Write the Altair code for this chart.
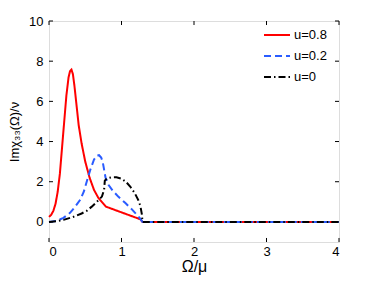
import altair as alt
import pandas as pd

series_names = ["u=0.8", "u=0.2", "u=0"]
colors = ["#ff0000", "#2a5cff", "#000000"]
dashes = [[1, 0], [7, 4], [7, 3, 1.5, 3]]

u08_x = [0.0, 0.03, 0.06, 0.09, 0.12, 0.15, 0.18, 0.21, 0.24, 0.27, 0.29, 0.31, 0.33, 0.35, 0.38, 0.41, 0.45, 0.5, 0.56, 0.62, 0.68, 0.74, 0.785, 1.26, 1.29, 1.4, 4.0]
u08_y = [0.25, 0.35, 0.55, 0.9, 1.5, 2.4, 3.7, 5.0, 6.3, 7.2, 7.5, 7.58, 7.35, 6.8, 5.8, 4.8, 3.9, 3.0, 2.2, 1.6, 1.2, 0.95, 0.76, 0.13, 0.0, 0.0, 0.0]

u02_x = [0.0, 0.1, 0.2, 0.29, 0.36, 0.43, 0.48, 0.52, 0.57, 0.62, 0.66, 0.69, 0.72, 0.74, 0.76, 0.78, 0.82, 0.88, 0.955, 1.05, 1.15, 1.25, 1.29, 1.4, 4.0]
u02_y = [0.0, 0.05, 0.2, 0.45, 0.75, 1.1, 1.5, 2.0, 2.6, 3.1, 3.3, 3.32, 3.2, 3.0, 2.6, 2.2, 1.85, 1.55, 1.26, 0.95, 0.6, 0.2, 0.0, 0.0, 0.0]

u0_x = [0.0, 0.1, 0.2, 0.34, 0.45, 0.52, 0.59, 0.66, 0.73, 0.76, 0.77, 0.8, 0.86, 0.93, 1.0, 1.06, 1.12, 1.18, 1.23, 1.26, 1.28, 1.29, 1.4, 4.0]
u0_y = [0.0, 0.03, 0.1, 0.26, 0.42, 0.55, 0.76, 1.0, 1.26, 1.6, 2.05, 2.17, 2.22, 2.22, 2.15, 2.0, 1.76, 1.45, 1.1, 0.8, 0.4, 0.0, 0.0, 0.0]

x_ticks = [0, 1, 2, 3, 4]
y_ticks = [0, 2, 4, 6, 8, 10]

rows = []
for name, xs, ys in [("u=0.8", u08_x, u08_y), ("u=0.2", u02_x, u02_y), ("u=0", u0_x, u0_y)]:
    for i, (a, b) in enumerate(zip(xs, ys)):
        rows.append({"series": name, "x": a, "y": b, "order": i})
df = pd.DataFrame(rows)

xscale = alt.Scale(domain=[0, 4], nice=False, zero=False)
yscale = alt.Scale(domain=[-1, 10], nice=False, zero=False)

font = "Liberation Sans"

lines = alt.Chart(df).mark_line(strokeWidth=2).encode(
    x=alt.X("x:Q", scale=xscale,
            axis=alt.Axis(values=x_ticks, format="d", title="Ω/μ", grid=False, tickSize=0, labelPadding=3,
                          titleFontSize=16, titleFontWeight="normal", titlePadding=0,
                          labelFontSize=13, domain=False, labelFont=font, titleFont=font)),
    y=alt.Y("y:Q", scale=yscale,
            axis=alt.Axis(values=y_ticks, format="d", title="Imχ₃₃(Ω)/ν", grid=False, tickSize=0, labelPadding=6,
                          titleFontSize=13, titleFontWeight="normal", titlePadding=7,
                          labelFontSize=13, domain=False, labelFont=font, titleFont=font)),
    color=alt.Color("series:N", scale=alt.Scale(domain=series_names, range=colors),
                    legend=alt.Legend(title=None, orient="none", legendX=214, legendY=0,
                                      symbolType="stroke", symbolSize=676, symbolStrokeWidth=2,
                                      labelFontSize=13, labelFont=font, rowPadding=-8,
                                      labelOffset=3, padding=0)),
    strokeDash=alt.StrokeDash("series:N", scale=alt.Scale(domain=series_names, range=dashes), legend=None),
    order="order:Q",
)

tx = pd.DataFrame({"t": x_ticks})
ty = pd.DataFrame({"t": y_ticks})

bot = alt.Chart(tx).mark_rule(color="black", strokeWidth=1).encode(
    x=alt.X("t:Q", scale=xscale), y=alt.datum(-1), y2=alt.datum(-0.8))
top = alt.Chart(tx).mark_rule(color="black", strokeWidth=1).encode(
    x=alt.X("t:Q", scale=xscale), y=alt.datum(10), y2=alt.datum(9.8))
left = alt.Chart(ty).mark_rule(color="black", strokeWidth=1).encode(
    y=alt.Y("t:Q", scale=yscale), x=alt.datum(0), x2=alt.datum(0.055))
right = alt.Chart(ty).mark_rule(color="black", strokeWidth=1).encode(
    y=alt.Y("t:Q", scale=yscale), x=alt.datum(4), x2=alt.datum(3.945))

chart = alt.layer(lines, bot, top, left, right).properties(
    width=290, height=221,
    autosize=alt.AutoSizeParams(type="none"),
    padding={"left": 41, "top": 13, "right": 20, "bottom": 38},
).configure_view(stroke="black", strokeWidth=1).configure(background="white")

chart.save("out.html", embed_options={"renderer": "svg", "actions": False})
